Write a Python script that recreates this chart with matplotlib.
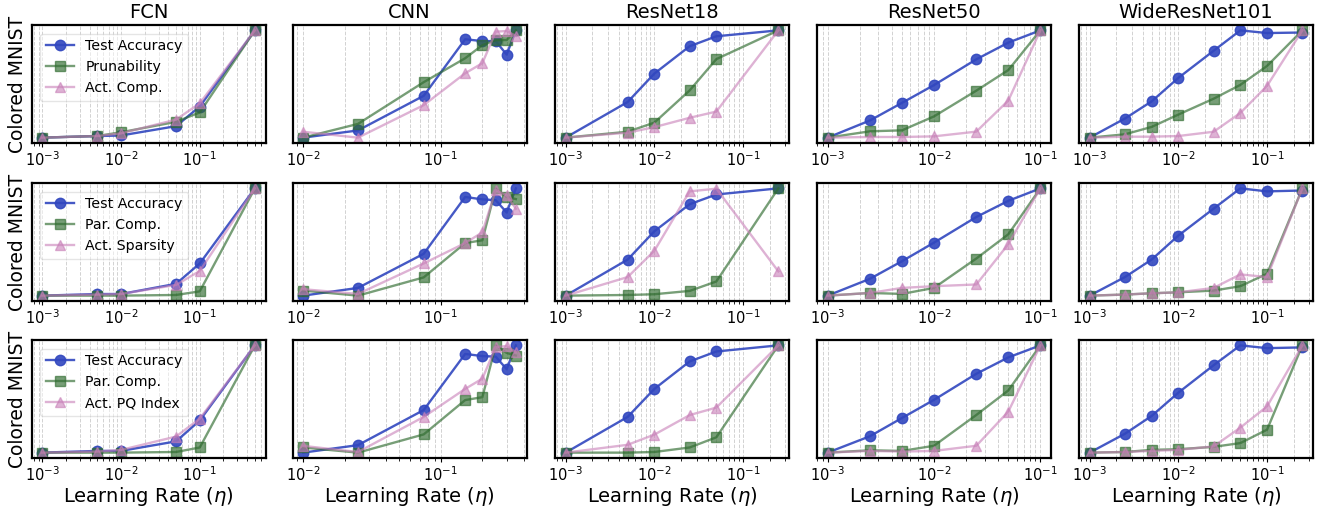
import matplotlib
matplotlib.use('Agg')
import matplotlib.pyplot as plt
import numpy as np

plt.rcParams['font.family'] = 'DejaVu Sans'

# x: learning rates per model
lr_fcn = [1e-3, 5e-3, 1e-2, 5e-2, 1e-1, 5e-1]
lr_cnn = [1e-2, 2.5e-2, 7.5e-2, 1.5e-1, 2e-1, 2.5e-1, 3e-1, 3.5e-1]
lr_r18 = [1e-3, 5e-3, 1e-2, 2.5e-2, 5e-2, 2.5e-1]
lr_r50 = [1e-3, 2.5e-3, 5e-3, 1e-2, 2.5e-2, 5e-2, 1e-1]
lr_wrn = [1e-3, 2.5e-3, 5e-3, 1e-2, 2.5e-2, 5e-2, 1e-1, 2.5e-1]

models = ['FCN', 'CNN', 'ResNet18', 'ResNet50', 'WideResNet101']

# normalised metric values (0..1), row 1
acc_fcn = [0.0, 0.015, 0.02, 0.107, 0.29, 1.0]
acc_cnn = [0.0, 0.067, 0.39, 0.917, 0.9, 0.9, 0.774, 1.0]
acc_r18 = [0.0, 0.332, 0.597, 0.852, 0.945, 1.0]
acc_r50 = [0.0, 0.16, 0.324, 0.49, 0.73, 0.886, 1.0]
acc_wrn = [0.0, 0.178, 0.338, 0.557, 0.81, 1.0, 0.975, 0.98]

prun_fcn = [0.0, 0.015, 0.05, 0.147, 0.235, 1.0]
prun_cnn = [0.0, 0.128, 0.517, 0.74, 0.862, 0.908, 0.91, 1.0]
prun_r18 = [0.0, 0.055, 0.14, 0.44, 0.732, 1.0]
prun_r50 = [0.0, 0.059, 0.068, 0.198, 0.438, 0.63, 1.0]
prun_wrn = [0.0, 0.031, 0.1, 0.215, 0.363, 0.492, 0.668, 1.0]

actc_fcn = [0.0, 0.015, 0.04, 0.168, 0.32, 1.0]
actc_cnn = [0.055, 0.0, 0.303, 0.6, 0.694, 0.988, 0.994, 0.948]
actc_r18 = [0.0, 0.046, 0.098, 0.185, 0.243, 1.0]
actc_r50 = [0.0, 0.006, 0.006, 0.012, 0.056, 0.346, 1.0]
actc_wrn = [0.0, 0.009, 0.009, 0.015, 0.055, 0.23, 0.483, 1.0]

# row 2
acc2_fcn = [0.0, 0.015, 0.015, 0.11, 0.30, 1.0]
acc2_cnn = [0.0, 0.072, 0.39, 0.92, 0.897, 0.89, 0.775, 1.0]
acc2_r18 = [0.0, 0.336, 0.6, 0.852, 0.943, 1.0]
acc2_r50 = [0.0, 0.157, 0.321, 0.494, 0.733, 0.884, 1.0]
acc2_wrn = [0.0, 0.173, 0.336, 0.56, 0.811, 1.0, 0.972, 0.98]

parc_fcn = [0.0, 0.0, 0.0, 0.006, 0.04, 1.0]
parc_cnn = [0.047, 0.0, 0.17, 0.49, 0.516, 1.0, 0.92, 0.9]
parc_r18 = [0.0, 0.006, 0.013, 0.044, 0.132, 1.0]
parc_r50 = [0.0, 0.025, 0.016, 0.072, 0.346, 0.572, 1.0]
parc_wrn = [0.0, 0.01, 0.022, 0.031, 0.047, 0.088, 0.204, 1.0]

spar_fcn = [0.0, 0.01, 0.015, 0.10, 0.23, 1.0]
spar_cnn = [0.06, 0.016, 0.3, 0.49, 0.59, 0.984, 0.934, 0.81]
spar_r18 = [0.0, 0.173, 0.418, 0.972, 0.997, 0.226]
spar_r50 = [0.0, 0.025, 0.072, 0.088, 0.104, 0.48, 1.0]
spar_wrn = [0.0, 0.01, 0.022, 0.031, 0.072, 0.198, 0.173, 1.0]

# row 3
acc3_fcn = [0.0, 0.016, 0.016, 0.105, 0.30, 1.0]
acc3_cnn = [0.0, 0.07, 0.397, 0.92, 0.9, 0.895, 0.778, 1.0]
acc3_r18 = [0.0, 0.333, 0.594, 0.85, 0.943, 1.0]
acc3_r50 = [0.0, 0.153, 0.323, 0.492, 0.735, 0.888, 1.0]
acc3_wrn = [0.0, 0.176, 0.342, 0.559, 0.815, 1.0, 0.974, 0.981]

parc3_fcn = [0.0, 0.0, 0.0, 0.006, 0.048, 1.0]
parc3_cnn = [0.048, 0.0, 0.17, 0.49, 0.517, 1.0, 0.93, 0.905]
parc3_r18 = [0.0, 0.0, 0.006, 0.048, 0.143, 1.0]
parc3_r50 = [0.0, 0.022, 0.016, 0.064, 0.351, 0.58, 1.0]
parc3_wrn = [0.0, 0.006, 0.026, 0.032, 0.054, 0.089, 0.214, 1.0]

pq_fcn = [0.0, 0.01, 0.025, 0.15, 0.317, 1.0]
pq_cnn = [0.063, 0.006, 0.333, 0.594, 0.69, 0.984, 0.994, 0.937]
pq_r18 = [0.0, 0.073, 0.168, 0.35, 0.42, 1.0]
pq_r50 = [0.0, 0.016, 0.01, 0.016, 0.064, 0.383, 1.0]
pq_wrn = [0.0, 0.006, 0.016, 0.026, 0.058, 0.233, 0.431, 1.0]

lrs = [lr_fcn, lr_cnn, lr_r18, lr_r50, lr_wrn]
rows = [
    (['Test Accuracy', 'Prunability', 'Act. Comp.'],
     [acc_fcn, acc_cnn, acc_r18, acc_r50, acc_wrn],
     [prun_fcn, prun_cnn, prun_r18, prun_r50, prun_wrn],
     [actc_fcn, actc_cnn, actc_r18, actc_r50, actc_wrn]),
    (['Test Accuracy', 'Par. Comp.', 'Act. Sparsity'],
     [acc2_fcn, acc2_cnn, acc2_r18, acc2_r50, acc2_wrn],
     [parc_fcn, parc_cnn, parc_r18, parc_r50, parc_wrn],
     [spar_fcn, spar_cnn, spar_r18, spar_r50, spar_wrn]),
    (['Test Accuracy', 'Par. Comp.', 'Act. PQ Index'],
     [acc3_fcn, acc3_cnn, acc3_r18, acc3_r50, acc3_wrn],
     [parc3_fcn, parc3_cnn, parc3_r18, parc3_r50, parc3_wrn],
     [pq_fcn, pq_cnn, pq_r18, pq_r50, pq_wrn]),
]

c_blue = '#3147bf'
c_green = '#2e6b2e'
c_pink = '#c880b8'

W, H = 1319, 507
fig = plt.figure(figsize=(W / 100, H / 100), dpi=100)
# 每个子图的像素位置
lefts = [31.5, 292.5, 555, 817, 1079]
tops = [25, 183, 340]
aw, ah = 234, 118

for r, (labels, s1, s2, s3) in enumerate(rows):
    for c in range(5):
        ax = fig.add_axes([lefts[c] / W, 1 - (tops[r] + ah) / H, aw / W, ah / H])
        x = lrs[c]
        ax.plot(x, s1[c], '-o', color=c_blue, alpha=0.9, lw=1.7, ms=7.5, label=labels[0])
        ax.plot(x, s2[c], '-s', color=c_green, alpha=0.65, lw=1.7, ms=7.5, label=labels[1])
        ax.plot(x, s3[c], '-^', color=c_pink, alpha=0.6, lw=1.7, ms=7.5, label=labels[2])
        ax.set_xscale('log')
        ax.set_yticks([])
        ax.grid(True, which='both', axis='x', ls='--', color='#d2d2d2', lw=0.7)
        ax.tick_params(axis='x', which='major', labelsize=10.5, length=3, pad=2)
        ax.tick_params(axis='x', which='minor', length=2)
        for sp in ax.spines.values():
            sp.set_linewidth(1.6)
        if r == 0:
            ax.set_title(models[c], fontsize=14, pad=5)
        if c == 0:
            ax.set_ylabel('Colored MNIST', fontsize=13.5, labelpad=3)
            ax.legend(loc='upper left', fontsize=10.2, framealpha=0.5, handlelength=2.0,
                      borderaxespad=0.6)
        if r == 2:
            ax.set_xlabel(r'Learning Rate ($\eta$)', fontsize=14, labelpad=1)

fig.savefig('out.png', dpi=100)
